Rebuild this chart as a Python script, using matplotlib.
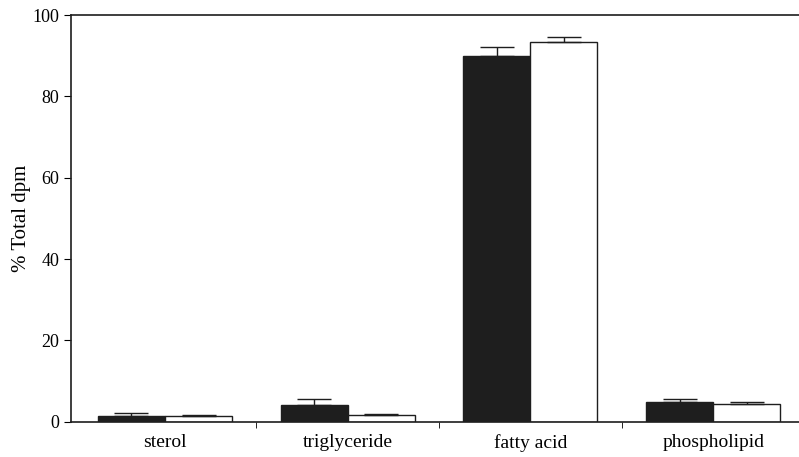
import numpy as np
import matplotlib.pyplot as plt

plt.rcParams["font.family"] = ["Liberation Serif", "DejaVu Serif"]

# Data (% total dpm), two treatments per lipid class
categories = ["sterol", "triglyceride", "fatty acid", "phospholipid"]
black_vals = [1.4, 4.2, 90.0, 4.8]
black_err = [0.7, 1.5, 2.2, 0.8]
white_vals = [1.5, 1.6, 93.3, 4.3]
white_err = [0.2, 0.4, 1.4, 0.5]

fig = plt.figure(figsize=(7.99, 4.57), dpi=100)
ax = fig.add_axes([0.089, 0.077, 0.911, 0.89])

x = np.arange(len(categories))
w = 0.367
ax.bar(x - w / 2, black_vals, w, color="#1e1e1e", edgecolor="#1e1e1e", linewidth=1,
       yerr=[np.zeros(4), black_err], capsize=12,
       error_kw=dict(ecolor="#1e1e1e", elinewidth=1, capthick=1))
ax.bar(x + w / 2, white_vals, w, color="white", edgecolor="#1e1e1e", linewidth=1,
       yerr=[np.zeros(4), white_err], capsize=12,
       error_kw=dict(ecolor="#1e1e1e", elinewidth=1, capthick=1))

ax.set_xlim(-0.514, 3.47)
ax.set_ylim(0, 100)
ax.set_yticks(np.arange(0, 101, 20))
ax.set_xticks(x)
ax.set_xticklabels(categories, fontsize=14)
ax.set_xticks(np.arange(0.5, len(categories) - 1, 1), minor=True)
ax.tick_params(axis="x", which="major", length=0, pad=9)
ax.tick_params(axis="x", which="minor", length=4, direction="out")
ax.tick_params(axis="y", labelsize=13, length=5, direction="out")
ax.set_ylabel("% Total dpm", fontsize=15, labelpad=1)

ax.spines["right"].set_visible(False)
for s in ["left", "top", "bottom"]:
    ax.spines[s].set_color("#1e1e1e")
    ax.spines[s].set_linewidth(1.2)

fig.savefig("out.png", dpi=100)
